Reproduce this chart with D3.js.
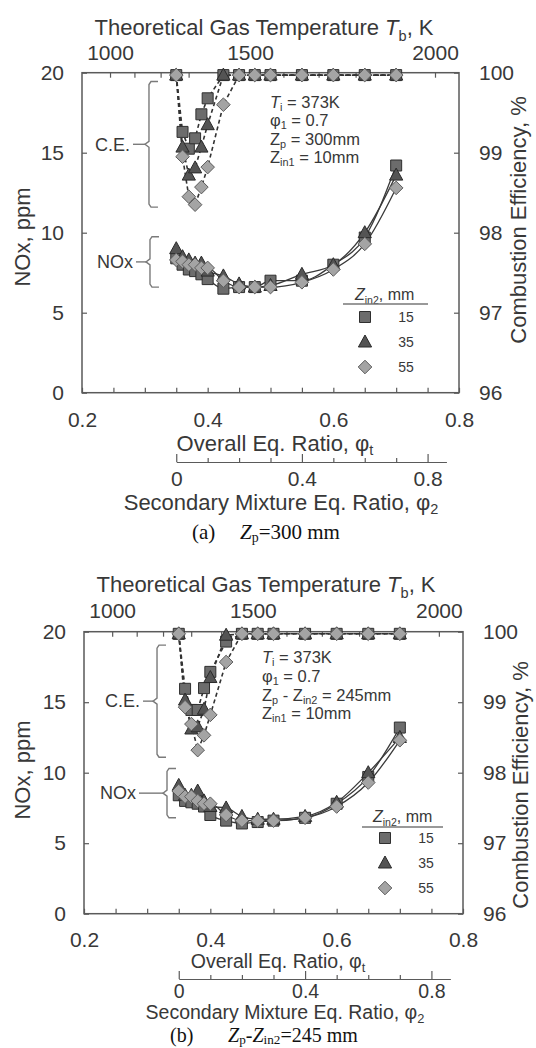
<!DOCTYPE html>
<html>
<head>
<meta charset="utf-8">
<script src="https://cdn.jsdelivr.net/npm/d3@7"></script>
<style>
  body { margin: 0; background: #fff; }
  svg { display: block; }
  text { font-family: "Liberation Sans", Arial, Helvetica, sans-serif; fill: #383838; }
</style>
</head>
<body>
<svg id="chart" width="536" height="1048"></svg>
<script>
// Overall equivalence ratio of every measured condition (phi2 = 0 ... 0.7, phi1 = 0.7)
const phiT = [0.35, 0.36, 0.37, 0.38, 0.39, 0.40, 0.425, 0.45, 0.475, 0.50, 0.55, 0.60, 0.65, 0.70];
const zin2Labels = ["15", "35", "55"];

// (a) Zp = 300 mm : NOx [ppm]
const noxA15 = [8.4, 8.0, 7.7, 7.6, 7.4, 7.1, 6.5, 6.6, 6.6, 7.0, 7.0, 8.0, 9.7, 14.2];
const noxA35 = [9.0, 8.5, 8.3, 8.1, 8.1, 7.6, 7.3, 6.8, 6.6, 6.7, 7.4, 8.0, 10.0, 13.6];
const noxA55 = [8.3, 8.2, 8.0, 8.0, 7.8, 7.8, 7.0, 6.6, 6.6, 6.6, 6.9, 7.7, 9.3, 12.8];
// (a) combustion efficiency [%]
const ceA15 = [99.97, 99.26, 99.05, 99.18, 99.48, 99.68, 99.97, 99.97, 99.97, 99.97, 99.97, 99.97, 99.97, 99.97];
const ceA35 = [99.97, 99.07, 98.72, 98.81, 99.07, 99.35, 99.97, 99.97, 99.97, 99.97, 99.97, 99.97, 99.97, 99.97];
const ceA55 = [99.97, 98.95, 98.45, 98.35, 98.57, 98.82, 99.60, 99.97, 99.97, 99.97, 99.97, 99.97, 99.97, 99.97];

// (b) Zp - Zin2 = 245 mm : NOx [ppm]
const noxB15 = [8.4, 8.0, 7.9, 7.8, 7.6, 7.0, 6.6, 6.4, 6.5, 6.6, 6.8, 7.8, 9.7, 13.2];
const noxB35 = [9.1, 8.4, 8.4, 8.7, 8.0, 7.6, 7.5, 6.9, 6.7, 6.7, 6.9, 7.9, 10.0, 12.5];
const noxB55 = [8.7, 8.3, 8.3, 8.0, 7.8, 7.8, 7.0, 6.6, 6.6, 6.6, 6.8, 7.6, 9.3, 12.3];
// (b) combustion efficiency [%]
const ceB15 = [99.97, 99.19, 98.89, 98.89, 99.20, 99.43, 99.86, 99.97, 99.97, 99.97, 99.97, 99.97, 99.97, 99.97];
const ceB35 = [99.97, 99.03, 98.62, 98.65, 98.90, 99.35, 99.95, 99.97, 99.97, 99.97, 99.97, 99.97, 99.97, 99.97];
const ceB55 = [99.97, 98.93, 98.69, 98.32, 98.53, 98.82, 99.57, 99.97, 99.97, 99.97, 99.97, 99.97, 99.97, 99.97];

// Axis ticks
const phiTicks = [0.2, 0.25, 0.3, 0.35, 0.4, 0.45, 0.5, 0.55, 0.6, 0.65, 0.7, 0.75, 0.8];
const phiLabels = [0.2, 0.4, 0.6, 0.8];
const noxTicks = [0, 5, 10, 15, 20];
const ceTicks = [96, 97, 98, 99, 100];
const tbTicks = [1000, 1100, 1200, 1300, 1400, 1500, 1600, 1700, 1800, 1900, 2000];
const tbLabels = [1000, 1500, 2000];
const phi2Ticks = [0, 0.1, 0.2, 0.3, 0.4, 0.5, 0.6, 0.7, 0.8];
const phi2Labels = [0, 0.4, 0.8];
// Adiabatic temperature vs overall equivalence ratio (reference points)
const tbRefK = [1000, 1500, 2000];
const tbRefPhi = [0.2446, 0.4674, 0.7618];
// phi_t = phi1 share + secondary share
const phiAtZeroPhi2 = 0.35, phi2Weight = 0.5, phi2Max = 0.86;

// quadratic through the three reference points
function phiOfTb(T) {
  const [t0, t1, t2] = tbRefK, [p0, p1, p2] = tbRefPhi;
  return p0 * (T - t1) * (T - t2) / ((t0 - t1) * (t0 - t2)) +
         p1 * (T - t0) * (T - t2) / ((t1 - t0) * (t1 - t2)) +
         p2 * (T - t0) * (T - t1) / ((t2 - t0) * (t2 - t1));
}

const svg = d3.select("#chart");
const INK = "#383838";
const FRAME = "#5a5a5a";
const SERIF = '"Liberation Serif", "Times New Roman", serif';

const markerPath = {
  sq: "M-5.5,-5.5H5.5V5.5H-5.5Z",
  tri: "M0,-7L6.6,5H-6.6Z",
  dia: "M0,-6.8L6.8,0L0,6.8L-6.8,0Z"
};
const seriesStyle = [
  { shape: "sq", fill: "#6c6c6c", stroke: "#2f2f2f" },
  { shape: "tri", fill: "#545454", stroke: "#2a2a2a" },
  { shape: "dia", fill: "#a4a4a4", stroke: "#5c5c5c" }
];

// text with italic runs and subscripts: parts = [[text, flags]], flags: "i" italic, "s" subscript
function rich(el, parts, size, drop = 0.25) {
  let shift = 0;
  parts.forEach(([t, k]) => {
    const sub = k.includes("s");
    const target = sub ? size * drop : 0;
    const ts = el.append("tspan").text(t).attr("dy", target - shift);
    shift = target;
    if (sub) ts.attr("font-size", size * 0.66);
    if (k.includes("i")) ts.attr("font-style", "italic");
  });
  return el;
}

function styleAxis(g, size) {
  g.attr("font-size", null).attr("font-family", null);
  g.select(".domain").remove();
  g.selectAll(".tick line").attr("stroke", FRAME).attr("stroke-width", 1.2);
  g.selectAll(".tick text").attr("font-size", size).style("fill", INK);
}

const panels = [
  {
    nox: [noxA15, noxA35, noxA55], ce: [ceA15, ceA35, ceA55],
    left: 82, right: 459, top: 72.7, bottom: 392.7,
    tickSize: 21, titleSize: 22, bottomTitleSize: 22,
    tbTitle: { x: 264, y: 35 }, tbPad: 13,
    xPad: 19, xTitle: { x: 275, y: 451 },
    phi2Y: 462, phi2Pad: 9, phi2Size: 21, phi2Title: { x: 281, y: 510 },
    noxTitle: { x: 30, y: 237 }, ceTitle: { x: 526, y: 220 },
    notes: [
      [["T", "i"], ["i", "s"], [" = 373K", ""]],
      [["φ", ""], ["1", "s"], [" = 0.7", ""]],
      [["Z", ""], ["p", "s"], [" = 300mm", ""]],
      [["Z", ""], ["in1", "s"], [" = 10mm", ""]]
    ],
    noteX: 270, noteY: 108, noteStep: 18.4, noteSize: 16.5,
    legend: { titleX: 355, titleY: 300, lineX0: 343, lineX1: 428, lineY: 304, rowY: 317, rowStep: 25, markX: 365, numX: 406 },
    braces: [
      { axis: "ce", phi: 0.3066, from: 99.89, to: 98.32, label: "C.E.", dash: 12 },
      { axis: "nox", phi: 0.3082, from: 9.75, to: 6.6, label: "NOx", dash: 10 }
    ],
    caption: { letter: "(a)", letterX: 192, x: 240, y: 539, size: 21, parts: [["Z", "i"], ["p", "s"], ["=300 mm", ""]] }
  },
  {
    nox: [noxB15, noxB35, noxB55], ce: [ceB15, ceB35, ceB55],
    left: 84, right: 463, top: 631.7, bottom: 913.7,
    tickSize: 21, titleSize: 22, bottomTitleSize: 19.5,
    tbTitle: { x: 266, y: 592 }, tbPad: 13.7,
    xPad: 18, xTitle: { x: 278, y: 968 },
    phi2Y: 979, phi2Pad: 5, phi2Size: 19.5, phi2Title: { x: 285, y: 1019 },
    noxTitle: { x: 30, y: 770 }, ceTitle: { x: 528, y: 785 },
    notes: [
      [["T", "i"], ["i", "s"], [" = 373K", ""]],
      [["φ", ""], ["1", "s"], [" = 0.7", ""]],
      [["Z", ""], ["p", "s"], [" - Z", ""], ["in2", "s"], [" = 245mm", ""]],
      [["Z", ""], ["in1", "s"], [" = 10mm", ""]]
    ],
    noteX: 262, noteY: 663, noteStep: 18.8, noteSize: 16.5,
    legend: { titleX: 373, titleY: 822, lineX0: 362, lineX1: 443, lineY: 827, rowY: 838, rowStep: 25, markX: 385, numX: 426 },
    braces: [
      { axis: "ce", phi: 0.3156, from: 99.81, to: 98.22, label: "C.E.", dash: 10 },
      { axis: "nox", phi: 0.3314, from: 10.3, to: 6.8, label: "NOx", dash: 24 }
    ],
    caption: { letter: "(b)", letterX: 170, x: 228, y: 1042, size: 20, parts: [["Z", "i"], ["p", "s"], ["-", ""], ["Z", "i"], ["in2", "s"], ["=245 mm", ""]] }
  }
];

function drawPanel(cfg) {
  const g = svg.append("g");
  const x = d3.scaleLinear().domain([0.2, 0.8]).range([cfg.left, cfg.right]);
  const yN = d3.scaleLinear().domain([0, 20]).range([cfg.bottom, cfg.top]);
  const yC = d3.scaleLinear().domain([96, 100]).range([cfg.bottom, cfg.top]);
  const tScale = d3.scaleLinear().domain(tbTicks).range(tbTicks.map(t => x(phiOfTb(t))));
  const p2Scale = d3.scaleLinear().domain([0, phi2Max])
    .range([x(phiAtZeroPhi2), x(phiAtZeroPhi2 + phi2Weight * phi2Max)]);

  // bottom axis: overall equivalence ratio
  g.append("g").attr("transform", `translate(0,${cfg.bottom})`)
    .call(d3.axisBottom(x).tickValues(phiTicks).tickSizeInner(-5).tickSizeOuter(0).tickPadding(cfg.xPad)
      .tickFormat(d => phiLabels.some(v => Math.abs(v - d) < 1e-9) ? d3.format(".1f")(d) : ""))
    .call(a => styleAxis(a, cfg.tickSize));

  // left axis: NOx
  g.append("g").attr("transform", `translate(${cfg.left},0)`)
    .call(d3.axisLeft(yN).tickValues(noxTicks).tickSizeInner(-5).tickSizeOuter(0).tickPadding(18)
      .tickFormat(d3.format("d")))
    .call(a => styleAxis(a, cfg.tickSize));

  // right axis: combustion efficiency
  g.append("g").attr("transform", `translate(${cfg.right},0)`)
    .call(d3.axisRight(yC).tickValues(ceTicks).tickSizeInner(-5).tickSizeOuter(0).tickPadding(20)
      .tickFormat(d3.format("d")))
    .call(a => styleAxis(a, cfg.tickSize));

  // top axis: theoretical gas temperature
  g.append("g").attr("transform", `translate(0,${cfg.top})`)
    .call(d3.axisTop(tScale).tickValues(tbTicks).tickSizeInner(-5).tickSizeOuter(0).tickPadding(cfg.tbPad)
      .tickFormat(d => tbLabels.includes(d) ? String(d) : ""))
    .call(a => styleAxis(a, cfg.tickSize));

  // secondary mixture equivalence ratio axis
  const ax2 = g.append("g").attr("transform", `translate(0,${cfg.phi2Y})`)
    .call(d3.axisBottom(p2Scale).tickValues(phi2Ticks).tickSizeInner(-4).tickSizeOuter(0).tickPadding(cfg.phi2Pad)
      .tickFormat(d => phi2Labels.some(v => Math.abs(v - d) < 1e-9) ? (d === 0 ? "0" : d3.format(".1f")(d)) : ""));
  ax2.attr("font-size", null).attr("font-family", null);
  ax2.select(".domain").attr("stroke", FRAME).attr("stroke-width", 1.2);
  ax2.selectAll(".tick line").attr("stroke", FRAME).attr("stroke-width", 1.2)
    .attr("y2", d => phi2Labels.some(v => Math.abs(v - d) < 1e-9) ? -8 : -4);
  ax2.selectAll(".tick text").attr("font-size", cfg.phi2Size).style("fill", INK);

  // frame
  g.append("rect")
    .attr("x", cfg.left).attr("y", cfg.top)
    .attr("width", cfg.right - cfg.left).attr("height", cfg.bottom - cfg.top)
    .attr("fill", "none").attr("stroke", FRAME).attr("stroke-width", 1.5);

  // axis titles
  rich(g.append("text").attr("x", cfg.tbTitle.x).attr("y", cfg.tbTitle.y)
    .attr("text-anchor", "middle").attr("font-size", cfg.titleSize),
    [["Theoretical Gas Temperature ", ""], ["T", "i"], ["b", "s"], [", K", ""]], cfg.titleSize);
  rich(g.append("text").attr("x", cfg.xTitle.x).attr("y", cfg.xTitle.y)
    .attr("text-anchor", "middle").attr("font-size", cfg.bottomTitleSize),
    [["Overall Eq. Ratio, φ", ""], ["t", "s"]], cfg.bottomTitleSize, 0.2);
  rich(g.append("text").attr("x", cfg.phi2Title.x).attr("y", cfg.phi2Title.y)
    .attr("text-anchor", "middle").attr("font-size", cfg.bottomTitleSize),
    [["Secondary Mixture Eq. Ratio, φ", ""], ["2", "s"]], cfg.bottomTitleSize, 0.18);
  g.append("text").attr("transform", `translate(${cfg.noxTitle.x},${cfg.noxTitle.y}) rotate(-90)`)
    .attr("text-anchor", "middle").attr("font-size", cfg.titleSize).text("NOx, ppm");
  g.append("text").attr("transform", `translate(${cfg.ceTitle.x},${cfg.ceTitle.y}) rotate(-90)`)
    .attr("text-anchor", "middle").attr("font-size", cfg.titleSize).text("Combustion  Efficiency, %");

  // combustion efficiency: dashed lines
  const ceLine = d3.line().x((d, i) => x(phiT[i])).y(d => yC(d));
  cfg.ce.forEach(vals => {
    g.append("path").datum(vals).attr("d", ceLine)
      .attr("fill", "none").attr("stroke", "#333").attr("stroke-width", 1.6)
      .attr("stroke-dasharray", "4,3");
  });

  // NOx: solid smooth lines
  const noxLine = d3.line().x((d, i) => x(phiT[i])).y(d => yN(d)).curve(d3.curveMonotoneX);
  cfg.nox.forEach(vals => {
    g.append("path").datum(vals).attr("d", noxLine)
      .attr("fill", "none").attr("stroke", "#3a3a3a").attr("stroke-width", 1.3);
  });

  // markers
  [0, 1, 2].forEach(s => {
    const st = seriesStyle[s];
    const pts = cfg.ce[s].map((v, i) => ({ px: x(phiT[i]), py: yC(v) }))
      .concat(cfg.nox[s].map((v, i) => ({ px: x(phiT[i]), py: yN(v) })));
    g.selectAll(null).data(pts).join("path")
      .attr("d", markerPath[st.shape])
      .attr("transform", d => `translate(${d.px},${d.py})`)
      .attr("fill", st.fill).attr("stroke", st.stroke).attr("stroke-width", 1);
  });

  // condition notes
  cfg.notes.forEach((parts, i) => {
    rich(g.append("text").attr("x", cfg.noteX).attr("y", cfg.noteY + i * cfg.noteStep)
      .attr("font-size", cfg.noteSize), parts, cfg.noteSize, 0.18);
  });

  // braces marking the C.E. and NOx groups
  cfg.braces.forEach(b => {
    const sc = b.axis === "ce" ? yC : yN;
    const bx = x(b.phi), y0 = sc(b.from), y1 = sc(b.to), ym = (y0 + y1) / 2;
    const p = d3.path();
    p.moveTo(bx + 9, y0); p.lineTo(bx + 2, y0); p.lineTo(bx, y0 + 3);
    p.lineTo(bx, ym - 3); p.lineTo(bx - 4, ym); p.lineTo(bx, ym + 3);
    p.lineTo(bx, y1 - 3); p.lineTo(bx + 2, y1); p.lineTo(bx + 9, y1);
    g.append("path").attr("d", p.toString()).attr("fill", "none")
      .attr("stroke", "#7a7a7a").attr("stroke-width", 1.4);
    g.append("line").attr("x1", bx - 4 - b.dash).attr("x2", bx - 4).attr("y1", ym).attr("y2", ym)
      .attr("stroke", "#7a7a7a").attr("stroke-width", 1.4);
    g.append("text").attr("x", bx - 7 - b.dash).attr("y", ym).attr("dy", "0.35em")
      .attr("text-anchor", "end").attr("font-size", 18).text(b.label);
  });

  // legend
  const L = cfg.legend;
  rich(g.append("text").attr("x", L.titleX).attr("y", L.titleY).attr("font-size", 16),
    [["Z", "i"], ["in2", "s"], [", mm", ""]], 16, 0.22);
  g.append("line").attr("x1", L.lineX0).attr("x2", L.lineX1).attr("y1", L.lineY).attr("y2", L.lineY)
    .attr("stroke", "#777").attr("stroke-width", 1.3);
  zin2Labels.forEach((lab, s) => {
    const yy = L.rowY + s * L.rowStep;
    const st = seriesStyle[s];
    g.append("path").attr("d", markerPath[st.shape]).attr("transform", `translate(${L.markX},${yy})`)
      .attr("fill", st.fill).attr("stroke", st.stroke).attr("stroke-width", 1);
    g.append("text").attr("x", L.numX).attr("y", yy).attr("dy", "0.35em")
      .attr("text-anchor", "middle").attr("font-size", 14).text(lab);
  });

  // caption
  const C = cfg.caption;
  g.append("text").attr("x", C.letterX).attr("y", C.y)
    .style("font-family", SERIF).style("fill", "#111")
    .attr("font-size", C.size).text(C.letter);
  rich(g.append("text").attr("x", C.x).attr("y", C.y)
    .style("font-family", SERIF).style("fill", "#111")
    .attr("font-size", C.size), C.parts, C.size, 0.12);
}

panels.forEach(drawPanel);
</script>
</body>
</html>
